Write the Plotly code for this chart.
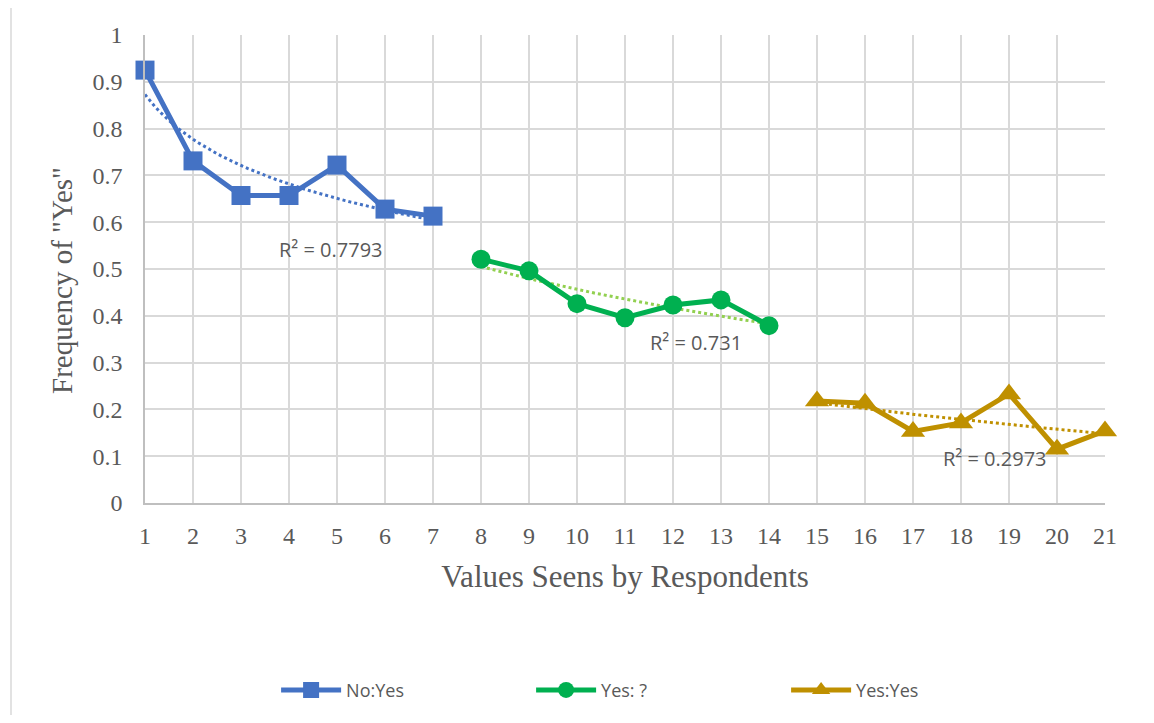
import numpy as np
import plotly.graph_objects as go

x_noyes = [1, 2, 3, 4, 5, 6, 7]
y_noyes = [0.925, 0.731, 0.657, 0.657, 0.722, 0.628, 0.613]
x_yesq = [8, 9, 10, 11, 12, 13, 14]
y_yesq = [0.521, 0.496, 0.426, 0.396, 0.423, 0.434, 0.379]
x_yesyes = [15, 16, 17, 18, 19, 20, 21]
y_yesyes = [0.218, 0.213, 0.153, 0.171, 0.233, 0.115, 0.154]

r2_labels = ["R² = 0.7793", "R² = 0.731", "R² = 0.2973"]
x_ticks = list(range(1, 22))
y_ticks = [0, 0.1, 0.2, 0.3, 0.4, 0.5, 0.6, 0.7, 0.8, 0.9, 1]

BLUE = "#4472C4"
GREEN = "#00B050"
GREEN_T = "#92D050"
GOLD = "#BF9000"


def log_trend(xs, ys, idx_based):
    xs = np.asarray(xs, float)
    ys = np.asarray(ys, float)
    xi = np.arange(1, len(xs) + 1) if idx_based else xs
    b, a = np.polyfit(np.log(xi), ys, 1)
    t = np.linspace(xi[0], xi[-1], 60)
    xx = np.linspace(xs[0], xs[-1], 60)
    return xx, a + b * np.log(t)


fig = go.Figure()

series = [
    ("No:Yes", x_noyes, y_noyes, BLUE, BLUE, "square", True),
    ("Yes: ?", x_yesq, y_yesq, GREEN, GREEN_T, "circle", False),
    ("Yes:Yes", x_yesyes, y_yesyes, GOLD, GOLD, "triangle-up", False),
]

for name, xs, ys, col, tcol, sym, idx in series:
    tx, ty = log_trend(xs, ys, idx)
    fig.add_trace(go.Scatter(x=tx, y=ty, mode="lines", showlegend=False,
                             hoverinfo="skip",
                             line=dict(color=tcol, width=3, dash="dot")))

for name, xs, ys, col, tcol, sym, idx in series:
    fig.add_trace(go.Scatter(x=xs, y=ys, mode="lines+markers", name=name,
                             cliponaxis=False,
                             line=dict(color=col, width=5),
                             marker=dict(symbol=sym, size=19 if sym != "triangle-up" else 21,
                                         color=col)))

ann_pos = [(4.87, 0.541), (12.48, 0.342), (18.71, 0.096)]
for (ax, ay), txt in zip(ann_pos, r2_labels):
    fig.add_annotation(x=ax, y=ay, text=txt, showarrow=False,
                       font=dict(family="Open Sans, Liberation Sans", size=20, color="#595959"))

# y-axis title placed as annotation for exact positioning
fig.add_annotation(xref="paper", yref="paper", x=(62 - 145) / 960, y=(503 - 281) / 468,
                   xanchor="center", yanchor="middle",
                   text='Frequency of "Yes"', textangle=-90, showarrow=False,
                   font=dict(family="Liberation Serif, Times New Roman, serif",
                             size=29, color="#595959"))

fig.add_shape(type="rect", xref="paper", yref="paper",
              x0=(11 - 145) / 960, x1=(1148 - 145) / 960,
              y0=-0.6, y1=(503 - 7) / 468,
              line=dict(color="#D9D9D9", width=1.5), layer="below")

fig.update_layout(
    width=1138, height=707,
    margin=dict(l=137, r=41, t=27, b=212, autoexpand=False),
    paper_bgcolor="white", plot_bgcolor="white",
    font=dict(family="Liberation Serif, Times New Roman, serif", color="#595959"),
    xaxis=dict(range=[1, 21], tickvals=x_ticks, ticktext=[str(v) for v in x_ticks],
               showgrid=True, gridcolor="#D9D9D9", gridwidth=1.5,
               zeroline=False, showline=True, linecolor="#BFBFBF", linewidth=1.5,
               ticks="", ticklabelstandoff=10, tickfont=dict(size=24, color="#595959"),
               title=dict(text="Values Seens by Respondents",
                          font=dict(size=31, color="#595959"), standoff=18),
               mirror=False),
    yaxis=dict(range=[0, 1], tickvals=y_ticks, ticktext=[f"{v:g}" for v in y_ticks],
               showgrid=True, gridcolor="#D9D9D9", gridwidth=1.5,
               zeroline=False, showline=True, linecolor="#BFBFBF", linewidth=1.5,
               ticks="", ticklabelstandoff=16, tickfont=dict(size=24, color="#595959")),
    legend=dict(orientation="h", x=0.535, xanchor="center", y=-0.40, yanchor="middle",
                font=dict(family="Open Sans, Liberation Sans", size=18, color="#595959"),
                itemwidth=60, traceorder="normal", entrywidth=180),
    showlegend=True,
)

fig.write_html("out.html")
